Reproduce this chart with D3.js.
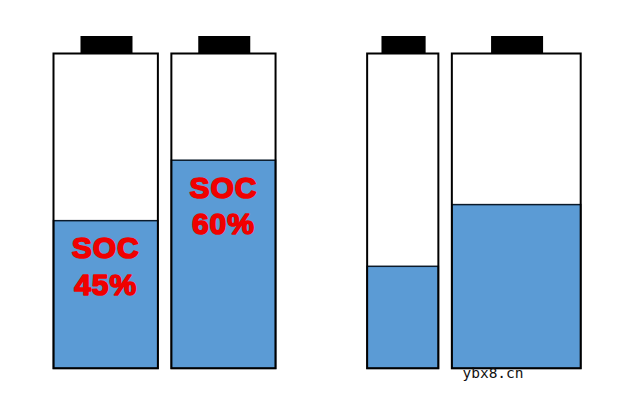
<!DOCTYPE html>
<html>
<head>
<meta charset="utf-8">
<script src="https://cdn.jsdelivr.net/npm/d3@7"></script>
<style>
  body { margin: 0; background: #fff; }
  svg { display: block; }
</style>
</head>
<body>
<script>
const w = 640;
const h = 404;

// battery data
const batteries = ["A", "B", "C", "D"];
const capacity = [104.5, 104.3, 71.3, 129];   // relative cell width
const groupOf = [0, 0, 1, 1];
const fillLevel = [46.9, 66.1, 32.4, 52.0];   // drawn fill, %
const socLabel = ["SOC\n45%", "SOC\n60%", "", ""];
const watermark = "ybx8.cn";

const innerGap = 13.5;
const groupGap = 91.7;
const bodyTop = 53.5;
const bodyBottom = 368.3;
const capH = 17.5;

const svg = d3.select("body").append("svg").attr("width", w).attr("height", h);

// cumulative layout along x in "units"
let pos = 0;
const starts = capacity.map(function (c, i) {
  if (i > 0) pos += groupOf[i] === groupOf[i - 1] ? innerGap : groupGap;
  const s = pos;
  pos += c;
  return s;
});

const xScale = d3.scaleLinear().domain([0, pos]).range([53.5, 580.7]);
const yScale = d3.scaleLinear().domain([0, 100]).range([bodyBottom, bodyTop]);

function cellLeft(i) { return xScale(starts[i]); }
function cellWidth(i) { return xScale(starts[i] + capacity[i]) - xScale(starts[i]); }
function capWidth(i) { return Math.min(52, cellWidth(i) * 0.62); }

const cells = svg.selectAll(".cell")
  .data(batteries)
  .enter()
  .append("g")
  .attr("class", "cell");

// cap
cells.append("rect")
  .attr("x", function (d, i) { return cellLeft(i) + cellWidth(i) / 2 - capWidth(i) / 2 + 0.8; })
  .attr("y", yScale(100) - capH)
  .attr("width", function (d, i) { return capWidth(i); })
  .attr("height", capH)
  .attr("fill", "#000");

// fill
cells.append("rect")
  .attr("x", function (d, i) { return cellLeft(i); })
  .attr("y", function (d, i) { return yScale(fillLevel[i]); })
  .attr("width", function (d, i) { return cellWidth(i); })
  .attr("height", function (d, i) { return yScale(0) - yScale(fillLevel[i]); })
  .attr("fill", "#5b9bd5")
  .attr("stroke", "#0b1a2a")
  .attr("stroke-width", 1.5);

// body outline
cells.append("rect")
  .attr("x", function (d, i) { return cellLeft(i); })
  .attr("y", yScale(100))
  .attr("width", function (d, i) { return cellWidth(i); })
  .attr("height", yScale(0) - yScale(100))
  .attr("fill", "none")
  .attr("stroke", "#000")
  .attr("stroke-width", 2);

// SOC labels
cells.each(function (d, i) {
  if (!socLabel[i]) return;
  const cx = cellLeft(i) + cellWidth(i) / 2;
  const lines = socLabel[i].split("\n");
  d3.select(this).selectAll(".soc")
    .data(lines)
    .enter()
    .append("text")
    .attr("class", "soc")
    .attr("x", cx)
    .attr("y", function (t, j) { return yScale(fillLevel[i]) + 37.5 + j * 36.5; })
    .attr("text-anchor", "middle")
    .attr("font-family", "'Liberation Sans', Arial, sans-serif")
    .attr("font-weight", "bold")
    .attr("font-size", 30)
    .attr("fill", "#f00000")
    .attr("stroke", "#f00000")
    .attr("stroke-width", 1.6)
    .attr("stroke-linejoin", "round")
    .attr("letter-spacing", 1)
    .text(function (t) { return t; });
});

svg.append("text")
  .attr("x", 493)
  .attr("y", 377.5)
  .attr("text-anchor", "middle")
  .attr("font-family", "'DejaVu Sans Mono', monospace")
  .attr("font-size", 14.5)
  .attr("fill", "#111")
  .text(watermark);
</script>
</body>
</html>
